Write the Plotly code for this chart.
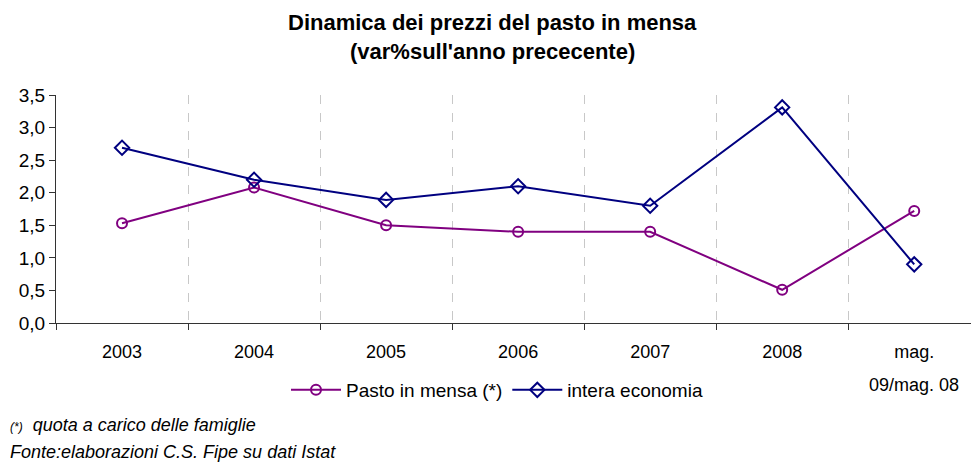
import plotly.graph_objects as go

# categories and series
categories = ["2003", "2004", "2005", "2006", "2007", "2008", "mag. 09/mag. 08"]
tick_labels = ["2003", "2004", "2005", "2006", "2007", "2008", "mag."]
pasto_in_mensa = [1.53, 2.08, 1.50, 1.40, 1.40, 0.51, 1.72]
intera_economia = [2.69, 2.20, 1.89, 2.10, 1.80, 3.31, 0.90]

FONT = "Liberation Sans, Arial, sans-serif"
PURPLE = "#800080"
NAVY = "#000080"

W, H = 971, 463
L, R, T, B = 56, 0, 95, 140

fig = go.Figure()

fig.add_trace(go.Scatter(
    x=categories, y=pasto_in_mensa,
    mode="lines+markers",
    name="Pasto in mensa (*)",
    line=dict(color=PURPLE, width=2),
    marker=dict(symbol="circle-open", size=10, color=PURPLE, line=dict(width=2, color=PURPLE)),
))
fig.add_trace(go.Scatter(
    x=categories, y=intera_economia,
    mode="lines+markers",
    name="intera economia",
    line=dict(color=NAVY, width=2),
    marker=dict(symbol="diamond-open", size=11, color=NAVY, line=dict(width=2, color=NAVY)),
))

plot_h = H - T - B
plot_w = W - L - R


def py(pix):
    # pixel row (from top of page) -> paper y
    return (H - B - pix) / plot_h


def px(pix):
    # pixel column -> paper x
    return (pix - L) / plot_w


fig.update_layout(
    width=W, height=H,
    margin=dict(l=L, r=R, t=T, b=B),
    paper_bgcolor="white",
    plot_bgcolor="white",
    font=dict(family=FONT, size=18, color="black"),
    separators=",.",
    showlegend=True,
    legend=dict(
        orientation="h",
        x=px(497), xanchor="center",
        y=py(390), yanchor="middle",
        font=dict(size=19),
        itemwidth=50,
        tracegroupgap=0,
        bgcolor="rgba(0,0,0,0)",
    ),
)

fig.update_xaxes(
    type="category",
    tickmode="array",
    tickvals=categories,
    ticktext=tick_labels,
    tickson="boundaries",
    ticks="outside", ticklen=6, tickcolor="#333",
    ticklabelstandoff=12,
    showgrid=True, gridcolor="#c8c8c8", griddash="dash", gridwidth=1,
    showline=True, linecolor="#333", linewidth=1,
    range=[-0.5, 6.43],
    tickfont=dict(size=18),
    zeroline=False,
)
fig.update_yaxes(
    range=[0, 3.5],
    dtick=0.5, tickformat=".1f",
    ticks="outside", ticklen=6, tickcolor="#333",
    showgrid=False,
    showline=True, linecolor="#333", linewidth=1,
    tickfont=dict(size=19),
    zeroline=False,
)

annotations = [
    dict(text="<b>Dinamica dei prezzi del pasto in mensa</b>", x=px(492), y=py(22),
         xref="paper", yref="paper", font=dict(size=22)),
    dict(text="<b>(var%sull'anno prececente)</b>", x=px(492), y=py(52),
         xref="paper", yref="paper", font=dict(size=22)),
    dict(text="09/mag. 08", x=categories[-1], y=py(385), xref="x", yref="paper",
         font=dict(size=18)),
    dict(text="<i><span style='font-size:12px'>(*)</span>  quota a carico delle famiglie</i>",
         x=px(8), y=py(425), xref="paper", yref="paper", xanchor="left", font=dict(size=18)),
    dict(text="<i>Fonte:elaborazioni C.S. Fipe su dati Istat</i>",
         x=px(8), y=py(452), xref="paper", yref="paper", xanchor="left", font=dict(size=18)),
]
for a in annotations:
    a["showarrow"] = False
    a.setdefault("yanchor", "middle")
fig.update_layout(annotations=annotations)

# page body margin would otherwise offset the figure by 8px
fig.write_html("out.html", config={"displayModeBar": False},
               post_script="document.body.style.margin='0';")
